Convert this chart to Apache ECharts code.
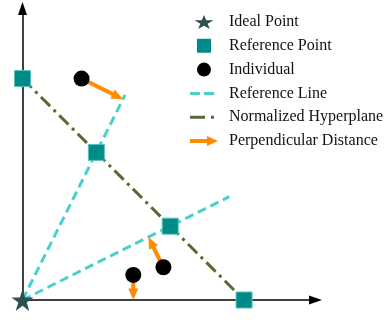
<!DOCTYPE html>
<html>
<head>
<meta charset="utf-8">
<script src="https://cdn.jsdelivr.net/npm/echarts@6/dist/echarts.min.js"></script>
<style>
  html, body { margin: 0; padding: 0; background: #fff; }
  #chart { width: 391px; height: 320px; }
</style>
</head>
<body>
<div id="chart"></div>
<script>
// Objective space, two objectives; the ideal point sits at the origin.
const idealPoint = [[0, 0]];
const referencePoints = [[0, 3], [1, 2], [2, 1], [3, 0]];
const individuals = [[0.8, 3.0], [1.908, 0.444], [1.5, 0.34]];
// Reference lines run from the ideal point through a reference point.
const referenceLineA = [[0, 0], [1.39, 2.78]];
const referenceLineB = [[0, 0], [2.8, 1.4]];
// Hyperplane f1 + f2 = 3 through the extreme reference points.
const hyperplane = [[0, 3], [3, 0]];
// Perpendicular distance arrows: [fromX, fromY, toX, toY].
const distances = [
  [0.8, 3.0, 1.36, 2.72],
  [1.908, 0.444, 1.704, 0.852],
  [1.5, 0.34, 1.5, 0]
];
const legendNames = ['Ideal Point', 'Reference Point', 'Individual',
  'Reference Line', 'Normalized Hyperplane', 'Perpendicular Distance'];

const C_STAR = '#2F4F4F';
const C_REF = '#008B8B';
const C_LINE = '#48D1CC';
const C_HYPER = '#556B2F';
const C_ARROW = '#FF8C00';

const STAR = 'path://M50,0L61.2,34.5L97.6,34.5L68.2,55.9L79.4,90.5L50,69.1L20.6,90.5L31.8,55.9L2.4,34.5L38.8,34.5Z';
// Legend icons drawn in a 28x14 box (two zero-area anchors pin the box).
const BOX = 'M0,0L0.01,0Z M28,14L27.99,14Z ';
const ICON_STAR = 'path://' + BOX + 'M14,0L16.24,5.34L23.5,5.34L17.63,8.65L19.87,14L14,10.69L8.13,14L10.37,8.65L4.5,5.34L11.77,5.34Z';
const ICON_RECT = 'path://' + BOX + 'M7,0L21,0L21,14L7,14Z';
const ICON_DASH = 'path://' + BOX + 'M0,5.5L10,5.5L10,8.5L0,8.5Z M14,5.5L24,5.5L24,8.5L14,8.5Z';
const ICON_DASHDOT = 'path://' + BOX + 'M0,5.5L15,5.5L15,8.5L0,8.5Z M21,5.5L24,5.5L24,8.5L21,8.5Z';
const ICON_ARROW = 'path://' + BOX + 'M0,5L17,5L17,2L28,7L17,12L17,9L0,9Z';

const chart = echarts.init(document.getElementById('chart'), null, { renderer: 'canvas' });

const axisCommon = {
  type: 'value',
  min: 0,
  axisLine: {
    show: true,
    onZero: false,
    symbol: ['none', 'path://M4.5,0L9,13L0,13Z'],
    symbolSize: [9, 13],
    lineStyle: { color: '#000', width: 1.5 }
  },
  axisTick: { show: false },
  axisLabel: { show: false },
  splitLine: { show: false }
};

chart.setOption({
  animation: false,
  backgroundColor: '#fff',
  grid: { left: 22.5, right: 75.5, top: 8.5, bottom: 20 },
  xAxis: Object.assign({}, axisCommon, { max: 3.967 }),
  yAxis: Object.assign({}, axisCommon, { max: 3.95 }),
  legend: {
    orient: 'vertical',
    left: 190,
    top: 14,
    padding: 0,
    itemWidth: 28,
    itemHeight: 14,
    itemGap: 7.8,
    textStyle: { fontFamily: 'Liberation Serif', fontSize: 16, color: '#111', padding: [0, 0, 0, 6] },
    data: [
      { name: legendNames[0], icon: ICON_STAR, itemStyle: { color: C_STAR, borderWidth: 0 } },
      { name: legendNames[1], icon: ICON_RECT, itemStyle: { color: C_REF, borderWidth: 0 } },
      { name: legendNames[2], icon: 'circle', itemStyle: { color: '#000', borderWidth: 0 } },
      { name: legendNames[3], icon: ICON_DASH, itemStyle: { color: C_LINE, borderWidth: 0 } },
      { name: legendNames[4], icon: ICON_DASHDOT, itemStyle: { color: C_HYPER, borderWidth: 0 } },
      { name: legendNames[5], icon: ICON_ARROW, itemStyle: { color: C_ARROW, borderWidth: 0 } }
    ]
  },
  series: [
    {
      name: legendNames[3],
      type: 'line',
      data: referenceLineA,
      symbol: 'none',
      z: 2,
      lineStyle: { color: C_LINE, width: 3, type: [9, 5] },
      itemStyle: { color: C_LINE }
    },
    {
      name: legendNames[3],
      type: 'line',
      data: referenceLineB,
      symbol: 'none',
      z: 2,
      lineStyle: { color: C_LINE, width: 3, type: [9, 5] },
      itemStyle: { color: C_LINE }
    },
    {
      name: legendNames[4],
      type: 'line',
      data: hyperplane,
      symbol: 'none',
      z: 2,
      lineStyle: { color: C_HYPER, width: 3, type: [13, 5, 3, 5] },
      itemStyle: { color: C_HYPER }
    },
    {
      name: legendNames[5],
      type: 'custom',
      z: 4,
      itemStyle: { color: C_ARROW },
      encode: { x: [0, 2], y: [1, 3] },
      data: distances,
      renderItem: function (params, api) {
        const p0 = api.coord([api.value(0), api.value(1)]);
        const p1 = api.coord([api.value(2), api.value(3)]);
        const dx = p1[0] - p0[0], dy = p1[1] - p0[1];
        const len = Math.hypot(dx, dy);
        const ux = dx / len, uy = dy / len;
        const headLen = 11.5, headHalf = 5;
        const bx = p1[0] - ux * headLen, by = p1[1] - uy * headLen;
        return {
          type: 'group',
          children: [
            {
              type: 'line',
              shape: { x1: p0[0], y1: p0[1], x2: bx + ux, y2: by + uy },
              style: { stroke: C_ARROW, lineWidth: 4 }
            },
            {
              type: 'polygon',
              shape: { points: [[p1[0], p1[1]], [bx - uy * headHalf, by + ux * headHalf], [bx + uy * headHalf, by - ux * headHalf]] },
              style: { fill: C_ARROW }
            }
          ]
        };
      }
    },
    {
      name: legendNames[1],
      type: 'scatter',
      data: referencePoints,
      symbol: 'rect',
      symbolSize: 16,
      z: 5,
      itemStyle: { color: C_REF, borderColor: '#5cbfba', borderWidth: 1, opacity: 1 }
    },
    {
      name: legendNames[2],
      type: 'scatter',
      data: individuals,
      symbol: 'circle',
      symbolSize: 16,
      z: 6,
      itemStyle: { color: '#000', opacity: 1 }
    },
    {
      name: legendNames[0],
      type: 'scatter',
      data: idealPoint,
      symbol: STAR,
      symbolSize: 22,
      z: 7,
      itemStyle: { color: C_STAR, opacity: 1 }
    }
  ]
});
</script>
</body>
</html>
